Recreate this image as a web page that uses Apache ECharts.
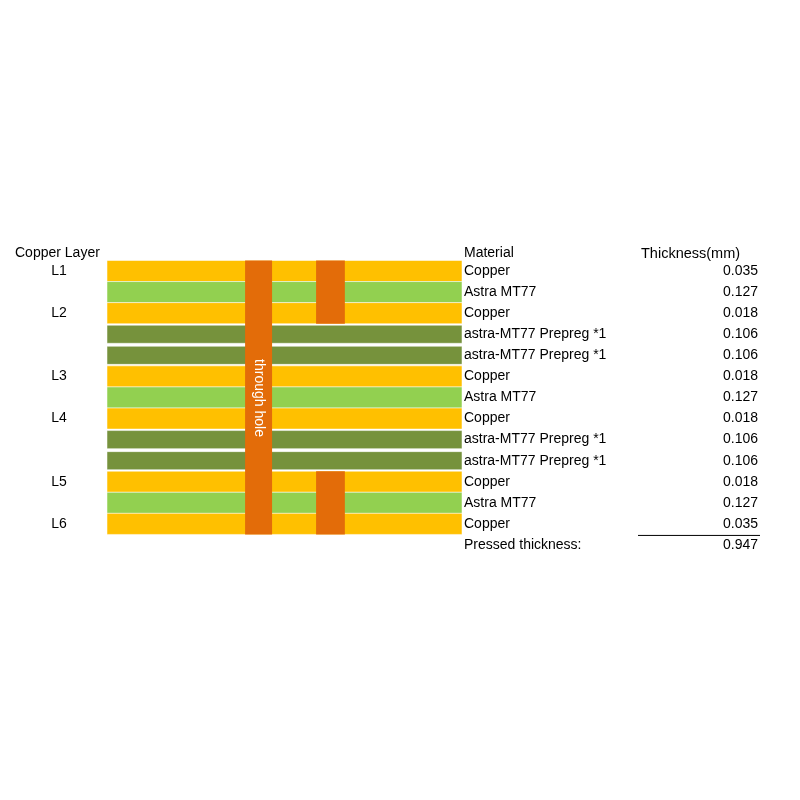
<!DOCTYPE html>
<html><head><meta charset="utf-8">
<script src="https://cdn.jsdelivr.net/npm/echarts@6/dist/echarts.min.js"></script>
<style>body{margin:0;background:#fff}#c{width:800px;height:800px}</style>
</head><body><div id="c"></div>
<script>
// stackup rows, top to bottom
let materials = ['Copper','Astra MT77','Copper','astra-MT77 Prepreg *1','astra-MT77 Prepreg *1','Copper','Astra MT77','Copper','astra-MT77 Prepreg *1','astra-MT77 Prepreg *1','Copper','Astra MT77','Copper'];
let thickness = ['0.035','0.127','0.018','0.106','0.106','0.018','0.127','0.018','0.106','0.106','0.018','0.127','0.035'];
let layerNames = ['L1','','L2','','','L3','','L4','','','L5','','L6'];
let pressedLabel = 'Pressed thickness:';
let pressedValue = '0.947';
// vias: [fromRow, toRow, xStart, xEnd] in stack width percent
let vias = [[0, 12, 38.9, 46.5, 'through hole'], [0, 2, 58.9, 67.0, ''], [10, 12, 58.9, 67.0, '']];

let rows = materials.concat(['']);
let colorOf = m => m === 'Copper' ? '#FFC000' : (m.indexOf('Prepreg') >= 0 ? '#76923C' : '#92D050');
let font = '14px "Liberation Sans", Arial, sans-serif';

let chart = echarts.init(document.getElementById('c'));
let option = {
  animation: false,
  grid: {left: 107, width: 355, top: 260.5, height: 295},
  xAxis: {type: 'value', min: 0, max: 100, show: false},
  yAxis: {type: 'category', data: rows.map((r, i) => i), inverse: true, show: false},
  graphic: [
    {type: 'text', left: 15, top: 246, style: {text: 'Copper Layer', font: font, fill: '#000'}},
    {type: 'text', left: 464, top: 246, style: {text: 'Material', font: font, fill: '#000'}},
    {type: 'text', left: 641, top: 246, style: {text: 'Thickness(mm)', font: '14.5px "Liberation Sans", Arial, sans-serif', fill: '#000'}}
  ],
  series: [
    {
      type: 'custom',
      data: materials.map((m, i) => [i, m, thickness[i], layerNames[i]]),
      renderItem: function (params, api) {
        let i = api.value(0);
        let m = materials[i];
        let p0 = api.coord([0, i]);
        let p1 = api.coord([100, i]);
        let h = api.size([0, 1])[1];
        let inset = m.indexOf('Prepreg') >= 0 ? 1.5 : 0;
        let top = p0[1] - h / 2 + inset;
        let children = [
          {type: 'rect', shape: {x: p0[0], y: top, width: p1[0] - p0[0], height: h - 2 * inset},
           style: {fill: colorOf(m), stroke: 'rgba(255,255,255,0.5)', lineWidth: 1}},
          {type: 'text', x: p1[0] + 2, y: p0[1], style: {text: m, font: font, fill: '#000', verticalAlign: 'middle'}},
          {type: 'text', x: 758, y: p0[1], style: {text: thickness[i], font: font, fill: '#000', align: 'right', verticalAlign: 'middle'}}
        ];
        if (layerNames[i]) {
          children.push({type: 'text', x: 59, y: p0[1], style: {text: layerNames[i], font: font, fill: '#000', align: 'center', verticalAlign: 'middle'}});
        }
        return {type: 'group', children: children};
      }
    },
    {
      type: 'custom',
      data: vias,
      renderItem: function (params, api) {
        let a = api.coord([api.value(2), api.value(0)]);
        let b = api.coord([api.value(3), api.value(1)]);
        let h = api.size([0, 1])[1];
        let v = vias[params.dataIndex];
        let y0 = a[1] - h / 2, y1 = b[1] + h / 2;
        let children = [{type: 'rect', shape: {x: a[0], y: y0, width: b[0] - a[0], height: y1 - y0}, style: {fill: '#E36C09'}}];
        if (v[4]) {
          children.push({type: 'text', x: (a[0] + b[0]) / 2, y: 398, rotation: -Math.PI / 2,
            style: {text: v[4], font: font, fill: '#fff', align: 'center', verticalAlign: 'middle'}});
        }
        return {type: 'group', children: children};
      }
    },
    {
      type: 'custom',
      data: [[13]],
      renderItem: function (params, api) {
        let p = api.coord([100, 13]);
        let h = api.size([0, 1])[1];
        return {type: 'group', children: [
          {type: 'line', shape: {x1: 638, y1: p[1] - h / 2 + 1, x2: 760, y2: p[1] - h / 2 + 1}, style: {stroke: '#000', lineWidth: 1}},
          {type: 'text', x: p[0] + 2, y: p[1], style: {text: pressedLabel, font: font, fill: '#000', verticalAlign: 'middle'}},
          {type: 'text', x: 758, y: p[1], style: {text: pressedValue, font: font, fill: '#000', align: 'right', verticalAlign: 'middle'}}
        ]};
      }
    }
  ]
};
chart.setOption(option);
</script></body></html>
